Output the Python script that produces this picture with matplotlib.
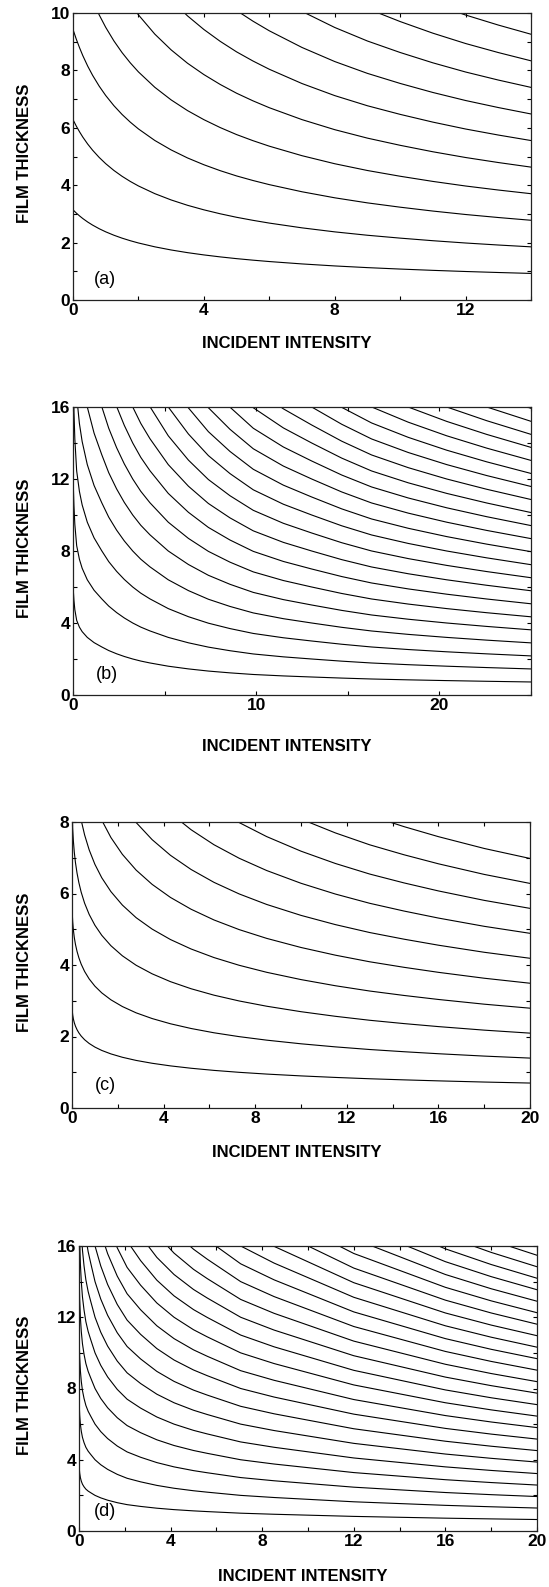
# Film thickness vs incident intensity, four panels (a)-(d)

import numpy as np
from matplotlib import pyplot as plt
from matplotlib.ticker import MultipleLocator

plt.rcParams['font.family'] = ['Liberation Sans', 'DejaVu Sans']

## Lowest curve of each panel (the others are its multiples)

int_a = [0, 0.1, 0.2, 0.3, 0.45, 0.6, 0.8, 1.0, 1.25, 1.5, 1.75, 2.0, 2.5, 3.0, 3.5, 4.0,
         4.5, 5.0, 5.5, 6.0, 7.0, 8.0, 9.0, 10.0, 11.0, 12.0, 13.0, 14.0]
base_a = [3.142, 3.030, 2.930, 2.838, 2.716, 2.609, 2.484, 2.375, 2.257, 2.155, 2.066, 1.987,
          1.853, 1.743, 1.650, 1.571, 1.502, 1.441, 1.388, 1.340, 1.257, 1.187, 1.128, 1.078,
          1.033, 0.993, 0.958, 0.926]
orders_a = [1, 2, 3, 4, 5, 6, 7, 8, 9, 10]

int_b = [0, 0.05, 0.1, 0.2, 0.35, 0.5, 0.78, 1.15, 1.57, 1.95, 2.38, 2.8, 3.26, 3.7, 4.2,
         5.2, 6.3, 7.39, 8.57, 9.84, 11.48, 13.03, 14.67, 16.3, 18.3, 20.4, 22.58, 25.0]
base_b = [6.10, 5.27, 4.74, 4.15, 3.77, 3.52, 3.20, 2.91, 2.67, 2.47, 2.29, 2.14, 2.00, 1.886,
          1.78, 1.60, 1.45, 1.33, 1.23, 1.14, 1.06, 1.00, 0.94, 0.889, 0.842, 0.80, 0.762, 0.724]
orders_b = list(range(1, 23))

int_c = [0, 0.01, 0.03, 0.06, 0.1, 0.15, 0.22, 0.3, 0.4, 0.55, 0.75, 1.0, 1.3, 1.7, 2.2,
         2.8, 3.5, 4.3, 5.2, 6.2, 7.3, 8.5, 10.0, 11.5, 13.0, 14.5, 16.0, 18.0, 20.0]
base_c = [2.930, 2.732, 2.604, 2.490, 2.385, 2.290, 2.190, 2.101, 2.013, 1.910, 1.805, 1.704,
          1.610, 1.513, 1.419, 1.331, 1.251, 1.178, 1.112, 1.052, 0.998, 0.949, 0.898, 0.855,
          0.818, 0.787, 0.759, 0.726, 0.698]
orders_c = [1, 2, 3, 4, 5, 6, 7, 8, 9, 10]

int_d = [0, 0.01, 0.03, 0.06, 0.1, 0.15, 0.22, 0.3, 0.4, 0.51, 0.7, 0.95, 1.25, 1.67, 2.1,
         2.69, 3.4, 4.15, 5.0, 5.6, 7.06, 8.52, 10.26, 12.0, 14.0, 16.0, 18.0, 20.0]
base_d = [4.00, 3.55, 3.25, 3.00, 2.80, 2.63, 2.48, 2.35, 2.24, 2.15, 2.00, 1.86, 1.73, 1.59,
          1.48, 1.38, 1.28, 1.20, 1.13, 1.09, 1.00, 0.94, 0.88, 0.82, 0.77, 0.72, 0.68, 0.645]
orders_d = list(range(1, 25))

xticks_a, yticks_a = [0, 4, 8, 12], [0, 2, 4, 6, 8, 10]
xticks_b, yticks_b = [0, 10, 20], [0, 4, 8, 12, 16]
xticks_c, yticks_c = [0, 4, 8, 12, 16, 20], [0, 2, 4, 6, 8]
xticks_d, yticks_d = [0, 4, 8, 12, 16, 20], [0, 4, 8, 12, 16]

W, H = 549, 1587
fig = plt.figure(figsize=(W / 100, H / 100), dpi=100)


def panel(box, x, base, orders, xlim, ylim, xticks, yticks, xminor, yminor, letter, lpos, xlab):
    l, r, t, b = box
    ax = fig.add_axes([l / W, 1 - b / H, (r - l) / W, (b - t) / H])
    for n in orders:
        ax.plot(x, np.array(base) * n, color='black', lw=0.8)
    ax.set_xlim(xlim)
    ax.set_ylim(ylim)
    ax.set_xticks(xticks)
    ax.set_yticks(yticks)
    ax.xaxis.set_minor_locator(MultipleLocator(xminor))
    ax.yaxis.set_minor_locator(MultipleLocator(yminor))
    ax.tick_params(which='both', direction='in', top=True, right=True,
                   labelsize=12.5, width=0.8, length=3)
    ax.tick_params(axis='x', pad=2)
    ax.tick_params(axis='y', pad=2)
    for lab in ax.get_xticklabels() + ax.get_yticklabels():
        lab.set_fontweight('bold')
    for s in ax.spines.values():
        s.set_linewidth(0.9)
        s.set_color('#222222')
    ax.set_ylabel('FILM THICKNESS', fontsize=12, fontweight='bold', va='center')
    ax.yaxis.set_label_coords(-(l - 25) / (r - l), 0.51)
    ax.set_xlabel('INCIDENT INTENSITY', fontsize=12, fontweight='bold', va='center')
    ax.xaxis.set_label_coords(xlab[0], xlab[1])
    ax.text(lpos[0], lpos[1], letter, transform=ax.transAxes, fontsize=13,
            ha='center', va='center')
    return ax


panel((73, 531, 13, 300), int_a, base_a, orders_a, (0, 14), (0, 10), xticks_a, yticks_a,
      2, 1, '(a)', (0.07, 0.07), (0.467, -0.15))
panel((73, 531, 407, 695), int_b, base_b, orders_b, (0, 25), (0, 16), xticks_b, yticks_b,
      5, 2, '(b)', (0.075, 0.07), (0.467, -0.18))
panel((72, 530, 822, 1108), int_c, base_c, orders_c, (0, 20), (0, 8), xticks_c, yticks_c,
      2, 1, '(c)', (0.072, 0.08), (0.49, -0.157))
panel((79, 537, 1246, 1531), int_d, base_d, orders_d, (0, 20), (0, 16), xticks_d, yticks_d,
      2, 2, '(d)', (0.057, 0.068), (0.489, -0.161))

plt.savefig('out.png', dpi=100)
